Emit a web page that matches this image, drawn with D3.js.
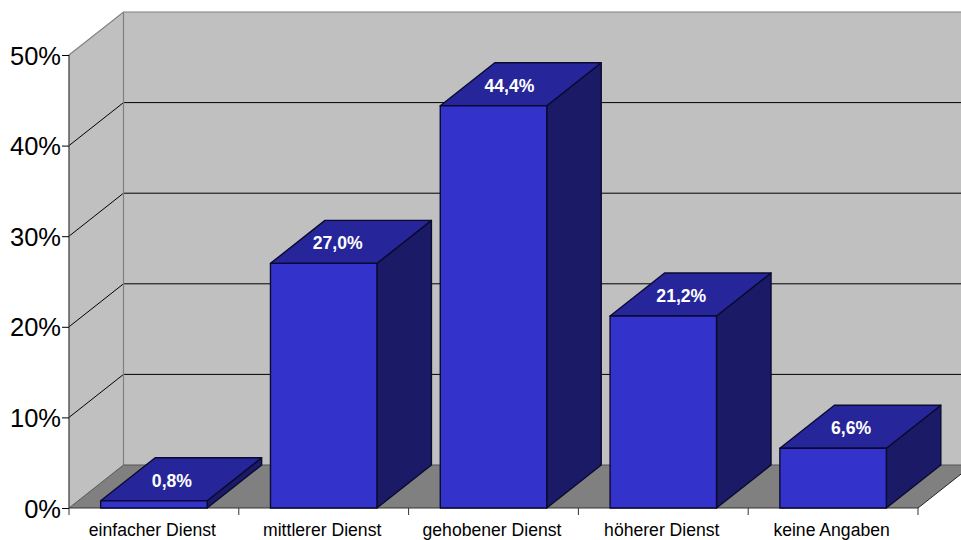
<!DOCTYPE html>
<html><head><meta charset="utf-8">
<script src="https://cdn.jsdelivr.net/npm/d3@7/dist/d3.min.js"></script>
<style>html,body{margin:0;padding:0;background:#fff}svg{display:block}text{font-family:"Liberation Sans",Arial,sans-serif}</style>
</head><body><svg id="c" width="961" height="540"></svg>
<script>
const categories = ["einfacher Dienst","mittlerer Dienst","gehobener Dienst","höherer Dienst","keine Angaben"];
const values = [0.8,27.0,44.4,21.2,6.6];
const valueLabels = ["0,8%","27,0%","44,4%","21,2%","6,6%"];
const yTicks = [0,10,20,30,40,50];
const depth = {dx:54.5, dy:-43};
const labelShift = [18,14,16,18,18];
const colors = {wall:"#C0C0C0",floor:"#808080",front:"#3333CC",top:"#26269A",side:"#1A1A66",edge:"#808080",grid:"#000000"};

const svg = d3.select("#c");
const x = d3.scaleBand().domain(categories).range([69,918]).paddingInner(0.373).paddingOuter(0.1865);
const y = d3.scaleLinear().domain([0,50]).range([508,55]);
const [x0,x1] = x.range(), y0 = y(0), y5 = y(50);
const dx = depth.dx, dy = depth.dy, W = 961;
const line = d3.line();
const poly = pts => line(pts) + "Z";

// back wall, side wall, floor
svg.append("rect").attr("x",x0+dx).attr("y",y5+dy).attr("width",W-x0-dx).attr("height",y0-y5)
  .attr("fill",colors.wall);
svg.append("path").attr("d",poly([[x0,y0],[x0,y5],[x0+dx,y5+dy],[x0+dx,y0+dy]])).attr("fill",colors.wall);
svg.append("path").attr("d",poly([[x0,y0],[x0+dx,y0+dy],[x1+dx,y0+dy],[x1,y0]])).attr("fill",colors.floor);

// gridlines
const g = svg.append("g");
g.selectAll("path.grid").data(yTicks.filter(d=>d>0&&d<50)).join("path").attr("class","grid")
  .attr("fill","none").attr("stroke",colors.grid).attr("stroke-width",1)
  .attr("d",d=>line([[x0,y(d)],[x0+dx,y(d)+dy],[W,y(d)+dy]]));
// wall edges
svg.append("path").attr("fill","none").attr("stroke",colors.edge).attr("stroke-width",1.2)
  .attr("d",line([[x0,y5],[x0+dx,y5+dy],[W,y5+dy]]));
svg.append("path").attr("fill","none").attr("stroke",colors.edge).attr("stroke-width",1.2)
  .attr("d",line([[x0+dx,y5+dy],[x0+dx,y0+dy]]));
svg.append("path").attr("fill","none").attr("stroke","#555").attr("stroke-width",1)
  .attr("d",line([[x0,y0],[x0+dx,y0+dy],[W,y0+dy]]));
svg.append("path").attr("fill","none").attr("stroke","#222").attr("stroke-width",1)
  .attr("d",line([[x1,y0],[x1+dx,y0+dy]]));

// y axis
svg.append("g").attr("transform",`translate(${x0},0)`)
  .call(d3.axisLeft(y).tickValues(yTicks).tickFormat(d=>d+"%").tickSize(7).tickPadding(1))
  .call(a=>a.selectAll("text").attr("font-size",25.5).attr("fill","#000").attr("dy","0.36em").attr("font-family",'"Liberation Sans",Arial,sans-serif'))
  .call(a=>a.selectAll("line").attr("stroke","#000"))
  .call(a=>a.select(".domain").attr("stroke","#444").attr("stroke-width",1.3).attr("d",line([[0,y5],[0,y0]])));

// x axis baseline and ticks at band boundaries
const bounds = d3.range(categories.length+1).map(i=>x0+i*x.step());
svg.append("path").attr("fill","none").attr("stroke","#333").attr("d",line([[x0,y0],[x1,y0]]));
svg.selectAll("line.xt").data(bounds).join("line").attr("class","xt")
  .attr("x1",d=>d).attr("x2",d=>d).attr("y1",y0).attr("y2",y0+7).attr("stroke","#333");
svg.selectAll("text.cat").data(categories).join("text").attr("class","cat")
  .attr("x",d=>x(d)+x.bandwidth()/2-1.5).attr("y",536).attr("text-anchor","middle")
  .attr("font-size",17.6).attr("fill","#000").text(d=>d);

// bars
const bars = svg.selectAll("g.bar").data(categories.map((c,i)=>({c,v:values[i],l:valueLabels[i],sh:labelShift[i]}))).join("g").attr("class","bar");
const s = {stroke:"#0a0a30","stroke-width":1.4,"stroke-linejoin":"round"};
const face = (sel,col,fn)=>sel.append("path").attr("fill",col).attr("stroke",s.stroke).attr("stroke-width",s["stroke-width"]).attr("stroke-linejoin",s["stroke-linejoin"]).attr("d",fn);
face(bars,colors.side,d=>{const r=x(d.c)+x.bandwidth(),t=y(d.v);return poly([[r,y0],[r,t],[r+dx,t+dy],[r+dx,y0+dy]]);});
face(bars,colors.top,d=>{const l=x(d.c),r=l+x.bandwidth(),t=y(d.v);return poly([[l,t],[l+dx,t+dy],[r+dx,t+dy],[r,t]]);});
face(bars,colors.front,d=>{const l=x(d.c),r=l+x.bandwidth(),t=y(d.v);return poly([[l,t],[r,t],[r,y0],[l,y0]]);});
bars.append("text").attr("x",d=>x(d.c)+x.bandwidth()/2+d.sh).attr("y",d=>y(d.v)+dy/2+7.5)
  .attr("text-anchor","middle").attr("font-size",17.6).attr("font-weight","bold").attr("fill","#fff").text(d=>d.l);
</script></body></html>
